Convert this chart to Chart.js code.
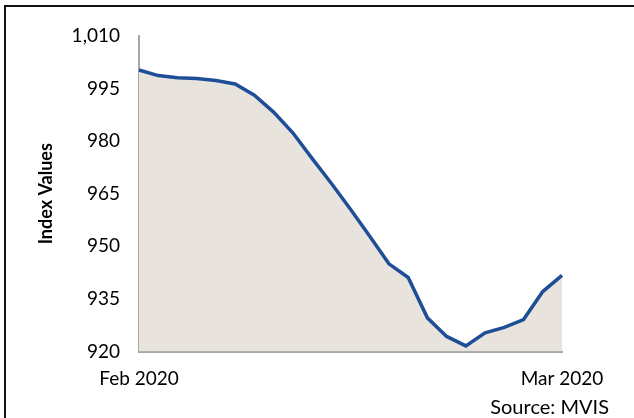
<!DOCTYPE html>
<html>
<head>
<meta charset="utf-8">
<script src="https://cdn.jsdelivr.net/npm/chart.js@4.4.1/dist/chart.umd.min.js"></script>
<style>
  html, body { margin: 0; padding: 0; background: #fff; }
  #wrap { position: relative; width: 634px; height: 418px; overflow: hidden; }
  #frame {
    position: absolute; left: 4px; top: 5px; width: 700px; height: 500px;
    border-top: 2px solid #111; border-left: 2px solid #111;
  }
  canvas { position: absolute; left: 0; top: 0; }
</style>
</head>
<body>
<div id="wrap">
  <div id="frame"></div>
  <canvas id="chart" width="634" height="418"></canvas>
</div>
<script>
// Index values, one per trading day
const xLabels = ['Feb 2020', '', '', '', '', '', '', '', '', '', '', '',
                 '', '', '', '', '', '', '', '', '', '', 'Mar 2020'];
const indexValues = [1000.3, 998.7, 998.1, 997.9, 997.3, 996.3, 993.1, 988.3,
                     982.4, 975.1, 968.0, 960.6, 952.9, 945.0, 941.1, 929.6,
                     924.3, 921.6, 925.3, 926.9, 929.1, 937.1, 941.7];
const yMin = 920;
const yMax = 1010;
const yStep = 15;
const yTitle = 'Index Values';
const sourceNote = 'Source: MVIS';

const FONT = 'Lato, "Open Sans", sans-serif';

// Source line in the bottom right corner
const sourcePlugin = {
    id: 'sourceNote',
    afterDraw(chart) {
        const ctx = chart.ctx;
        ctx.save();
        ctx.font = '20px ' + FONT;
        ctx.fillStyle = '#000';
        ctx.textAlign = 'right';
        ctx.textBaseline = 'middle';
        ctx.fillText(sourceNote, 609, 408);
        ctx.restore();
    }
};

new Chart(document.getElementById('chart'), {
    type: 'line',
    data: {
        labels: xLabels,
        datasets: [{
            data: indexValues,
            borderColor: '#1f4e99',
            borderWidth: 3.5,
            backgroundColor: '#e8e4dd',
            fill: 'start',
            tension: 0,
            pointRadius: 0
        }]
    },
    options: {
        responsive: false,
        animation: false,
        layout: {
            padding: { left: 0, top: 36, right: 72, bottom: 0 }
        },
        plugins: {
            legend: { display: false },
            tooltip: { enabled: false }
        },
        scales: {
            x: {
                offset: false,
                grid: { display: false, drawTicks: false },
                border: { display: true, color: '#a6a6a6', width: 2 },
                ticks: {
                    autoSkip: false,
                    maxRotation: 0,
                    padding: 16,
                    color: '#000',
                    font: { family: FONT, size: 19 }
                },
                afterFit(scale) { scale.height = 66.5; }
            },
            y: {
                min: yMin,
                max: yMax,
                grid: { display: false, drawTicks: false },
                border: { display: true, color: '#a6a6a6', width: 2 },
                ticks: {
                    stepSize: yStep,
                    padding: 19,
                    color: '#000',
                    font: { family: FONT, size: 19 }
                },
                title: {
                    display: true,
                    text: yTitle,
                    color: '#000',
                    font: { family: FONT, size: 18, weight: 'bold' },
                    padding: { top: 35, bottom: 0 }
                },
                afterFit(scale) { scale.width = 139; }
            }
        }
    },
    plugins: [sourcePlugin]
});
</script>
</body>
</html>
